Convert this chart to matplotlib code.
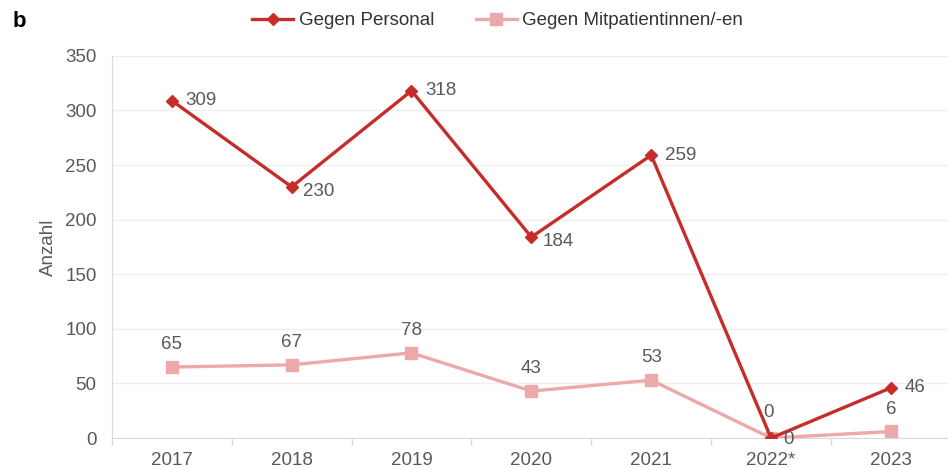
import numpy as np
import matplotlib.pyplot as plt
from matplotlib.ticker import FixedLocator

# Data
YEARS = ['2017', '2018', '2019', '2020', '2021', '2022*', '2023']
PERSONAL = [309, 230, 318, 184, 259, 0, 46]
MITPATIENTEN = [65, 67, 78, 43, 53, 0, 6]

RED = '#C62D2A'
PINK = '#EDA9A9'
TEXT = '#595959'
FS = 13.5

plt.rcParams['font.family'] = ['Liberation Sans', 'DejaVu Sans']

fig = plt.figure(figsize=(9.48, 4.69), dpi=100)
ax = fig.add_axes([0.118, 0.066, 0.885, 0.815])

x = np.arange(len(YEARS))
ax.plot(x, PERSONAL, color=RED, lw=2.4, marker='D', ms=6.5,
        label='Gegen Personal', zorder=3)
ax.plot(x, MITPATIENTEN, color=PINK, lw=2.4, marker='s', ms=8,
        label='Gegen Mitpatientinnen/-en', zorder=2)

# value labels
for i, v in enumerate(PERSONAL):
    if i == 5:
        ax.annotate(str(v), (i, v), xytext=(-2, 12), textcoords='offset points',
                    ha='center', va='bottom', fontsize=FS, color=TEXT)
    elif i in (1, 3):
        ax.annotate(str(v), (i, v), xytext=(8, -3), textcoords='offset points',
                    ha='left', va='center', fontsize=FS, color=TEXT)
    else:
        ax.annotate(str(v), (i, v), xytext=(10, 0), textcoords='offset points',
                    ha='left', va='center', fontsize=FS, color=TEXT)
for i, v in enumerate(MITPATIENTEN):
    if i == 5:
        ax.annotate(str(v), (i, v), xytext=(9, -1), textcoords='offset points',
                    ha='left', va='center', fontsize=FS, color=TEXT)
    else:
        ax.annotate(str(v), (i, v), xytext=(0, 10), textcoords='offset points',
                    ha='center', va='bottom', fontsize=FS, color=TEXT)

ax.set_xlim(-0.5, len(YEARS) - 0.5)
ax.set_ylim(0, 350)
ax.set_yticks(range(0, 351, 50))
ax.set_xticks(x)
ax.set_xticklabels(YEARS)
ax.xaxis.set_minor_locator(FixedLocator(np.arange(-0.5, len(YEARS), 1)))
ax.tick_params(axis='x', which='major', length=0, pad=10, labelsize=FS,
               labelcolor=TEXT)
ax.tick_params(axis='x', which='minor', length=5, color='#D9D9D9', width=1)
ax.tick_params(axis='y', length=0, pad=11, labelsize=FS, labelcolor=TEXT)
ax.grid(axis='y', color='#EFEFEF', lw=1)
ax.set_axisbelow(True)
for s in ['top', 'right']:
    ax.spines[s].set_visible(False)
ax.spines['left'].set_color('#D9D9D9')
ax.spines['bottom'].set_color('#D9D9D9')
ax.set_ylabel('Anzahl', fontsize=FS, color=TEXT, labelpad=6)

fig.legend(loc='upper center', bbox_to_anchor=(0.525, 1.01), ncol=2,
           frameon=False, fontsize=FS, handlelength=2.2, columnspacing=2.2,
           handletextpad=0.3, labelcolor='#333333')
fig.text(0.013, 0.955, 'b', fontsize=16, fontweight='bold', va='center')

fig.savefig('out.png', dpi=100)
